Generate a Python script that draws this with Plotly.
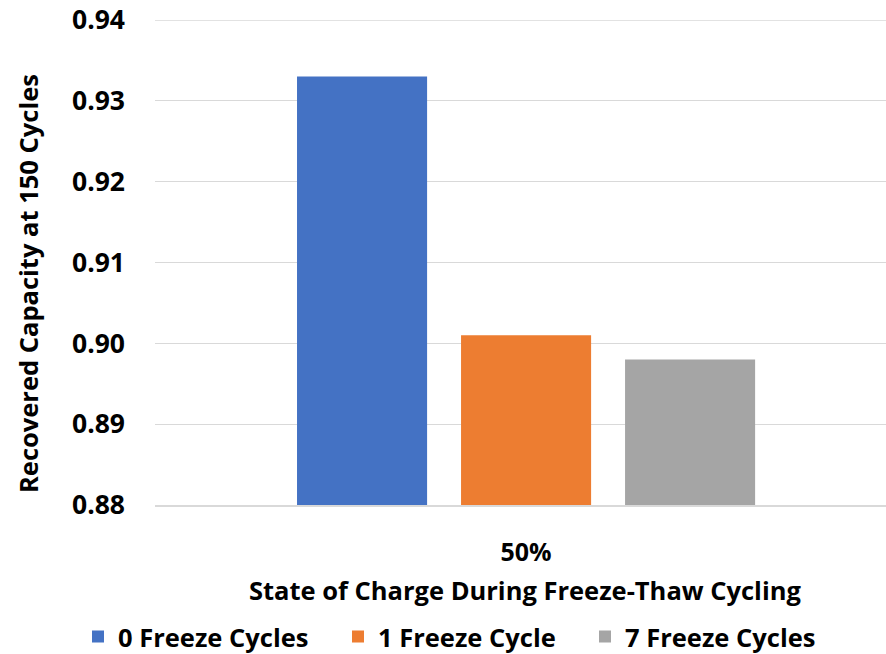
import plotly.graph_objects as go

# Recovered capacity after 150 cycles, grouped by freeze-thaw treatment
categories = ["50%"]
series_names = ["0 Freeze Cycles", "1 Freeze Cycle", "7 Freeze Cycles"]
series_values = [[0.933], [0.901], [0.898]]
series_colors = ["#4472C4", "#ED7D31", "#A5A5A5"]
y_ticks = [0.88, 0.89, 0.90, 0.91, 0.92, 0.93, 0.94]
y_tick_labels = ["0.88", "0.89", "0.90", "0.91", "0.92", "0.93", "0.94"]

FONT = "Open Sans"
W, H = 886, 654
ML, MR, MT, MB = 155, 0, 20, 149
PW, PH = W - ML - MR, H - MT - MB
GRID = "#D9D9D9"


def px_x(px):
    return (px - ML) / PW


def px_y(py):
    return (MT + PH - py) / PH


def bold(size):
    return dict(family=FONT, size=size, color="black", weight="bold")


# left edge of each legend entry (pixels)
legend_left = [78, 338, 585]
legend_ids = ["legend", "legend2", "legend3"]

fig = go.Figure()
for name, vals, color, lid in zip(series_names, series_values, series_colors, legend_ids):
    fig.add_trace(go.Bar(
        x=categories, y=vals, name=name, legend=lid,
        marker=dict(color=color, line=dict(width=0)),
    ))

legend_layouts = {}
for lid, left in zip(legend_ids, legend_left):
    legend_layouts[lid] = dict(
        orientation="h", xanchor="left", yanchor="middle",
        x=px_x(left), y=px_y(637), font=bold(25.5),
        bgcolor="rgba(0,0,0,0)", borderwidth=0,
    )

fig.update_layout(
    width=W, height=H,
    margin=dict(l=ML, r=MR, t=MT, b=MB, autoexpand=False),
    paper_bgcolor="white", plot_bgcolor="white",
    font=bold(25),
    barmode="group", bargap=0.337, bargroupgap=0.207,
    showlegend=True,
    xaxis=dict(
        type="category", range=[-0.5, 0.485],
        showgrid=False, showline=True, linecolor=GRID, linewidth=2,
        ticks="", ticklabelstandoff=24, tickfont=bold(25),
    ),
    yaxis=dict(
        range=[0.88, 0.94], tickvals=y_ticks, ticktext=y_tick_labels,
        showgrid=True, gridcolor=GRID, gridwidth=1.3,
        zeroline=False, showline=False, ticks="", ticklabelstandoff=29,
        tickfont=bold(26.5),
    ),
    # top gridline at the upper end of the value range
    shapes=[dict(type="line", xref="paper", yref="y", x0=0, x1=1,
                 y0=y_ticks[-1], y1=y_ticks[-1], layer="below",
                 line=dict(color=GRID, width=1.3))],
    annotations=[
        dict(text="Recovered Capacity at 150 Cycles", textangle=-90,
             xref="paper", yref="paper", x=px_x(28), y=px_y(284),
             xanchor="center", yanchor="middle", showarrow=False,
             font=bold(25.5)),
        dict(text="State of Charge During Freeze-Thaw Cycling",
             xref="paper", yref="paper", x=px_x(525), y=px_y(590),
             xanchor="center", yanchor="middle", showarrow=False,
             font=bold(25.5)),
    ],
    **legend_layouts,
)

fig.write_html("out.html")
